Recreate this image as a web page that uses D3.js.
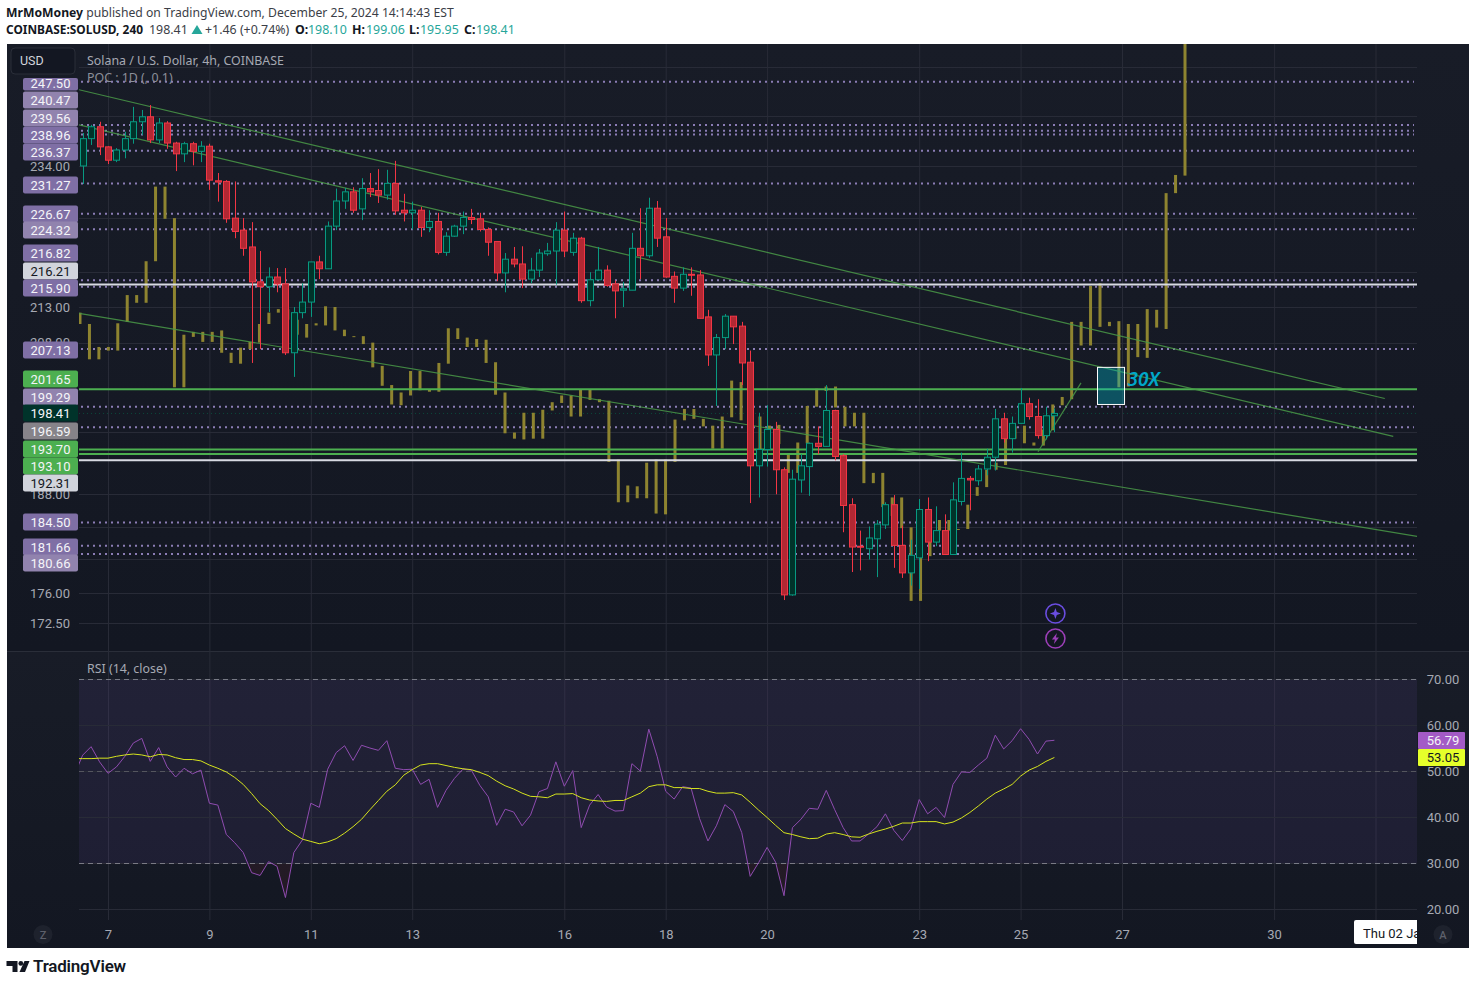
<!DOCTYPE html>
<html>
<head>
<meta charset="utf-8">
<title>SOLUSD</title>
<script src="https://cdn.jsdelivr.net/npm/d3@7"></script>
<style>
  html, body { margin: 0; padding: 0; background: #fff; }
  svg { display: block; }
  text { font-family: Roboto, sans-serif; }
  .noto { font-family: "Noto Sans", sans-serif; }
</style>
</head>
<body>
<svg id="chart" width="1476" height="985"></svg>
<script>
// candles, 4h bars, 6 Dec 2024 onwards
const opens = [
  234.0,238.3,240.2,237.0,234.9,236.5,238.3,241.0,241.8,238.1,
  240.8,237.6,235.9,237.5,236.3,237.1,231.7,231.6,226.0,224.2,
  221.7,216.6,215.9,217.3,216.3,206.6,212.2,213.7,219.5,218.5,
  224.8,228.6,230.0,227.4,230.5,230.2,229.5,231.3,227.2,226.8,
  227.2,224.6,225.5,220.9,223.3,224.8,226.1,225.9,224.3,222.5,
  217.9,219.9,219.2,217.0,218.3,220.7,221.1,224.2,220.9,223.0,
  213.9,216.9,218.3,216.3,215.4,215.4,221.5,220.4,227.5,223.2,
  217.4,215.7,217.7,217.6,211.6,206.3,208.7,211.7,210.3,205.3,
  191.6,193.7,196.3,191.1,175.8,189.8,191.5,194.5,194.1,198.8,
  192.9,186.7,181.6,181.3,182.5,184.2,186.7,181.7,178.4,180.2,
  186.1,182.1,183.5,180.6,187.1,190.0,189.7,191.2,192.7,197.7,
  195.1,197.1,199.7,198.0,195.5,198.1];
const highs = [
  239.2,240.5,241.0,237.1,236.8,239.4,243.4,242.9,243.7,241.6,
  241.1,237.8,237.8,237.8,237.9,237.5,232.9,231.8,231.6,226.0,
  225.4,221.1,218.7,218.6,218.6,213.0,216.4,219.5,220.4,225.5,
  230.5,230.6,230.7,232.1,232.9,233.5,233.4,234.8,229.7,228.5,
  227.7,227.2,226.8,223.9,225.0,227.0,227.4,226.8,224.6,222.5,
  220.8,221.7,221.8,220.1,221.4,222.3,225.4,227.0,223.8,223.2,
  218.0,221.7,219.0,216.8,216.6,223.8,227.5,229.1,228.6,226.0,
  218.1,218.7,218.7,218.3,212.6,209.2,212.0,211.7,210.9,206.9,
  198.5,199.5,197.3,191.4,191.1,193.1,194.6,196.7,202.2,198.9,
  193.1,187.5,183.5,184.0,184.8,187.0,187.9,184.1,182.4,187.4,
  187.6,186.5,185.5,189.5,193.3,190.3,191.7,193.8,199.0,198.5,
  198.0,201.8,200.5,200.3,199.3,199.06];
const lows = [
  231.2,237.3,235.7,234.3,234.6,235.2,237.5,238.9,237.6,237.6,
  236.7,233.2,234.6,234.1,234.6,230.3,228.5,225.3,223.0,220.4,
  205.2,207.1,212.3,215.1,206.3,203.3,211.4,211.6,217.0,218.5,
  224.2,227.4,226.8,225.7,229.2,228.3,228.8,226.5,225.5,224.3,
  223.2,223.9,220.6,220.4,223.2,223.6,225.1,224.0,220.4,216.7,
  215.1,218.7,215.7,216.4,217.3,220.4,216.2,220.2,220.4,213.6,
  213.1,216.9,215.9,211.4,213.0,215.4,217.0,220.1,221.7,217.2,
  213.6,215.3,214.6,211.4,204.8,199.4,207.1,207.8,202.2,186.9,
  187.6,191.5,188.0,175.2,175.7,188.2,187.8,193.1,194.1,192.3,
  183.3,178.5,178.7,180.0,177.9,183.7,179.0,177.8,176.9,176.5,
  179.8,181.6,180.6,180.6,186.6,186.0,189.1,190.4,191.0,194.6,
  193.3,197.1,197.6,195.1,195.0,195.95];
const closes = [
  238.3,240.2,237.0,234.9,236.5,238.3,241.0,241.8,238.1,240.8,
  237.6,235.9,237.5,236.3,237.1,231.8,231.5,225.9,224.0,221.5,
  216.6,215.9,217.3,216.3,206.6,212.2,213.7,219.5,218.5,224.8,
  228.6,230.0,227.2,230.5,230.0,229.5,231.3,227.1,226.8,227.2,
  224.6,225.5,220.9,223.3,224.8,226.1,225.8,224.3,222.4,217.9,
  219.9,219.2,217.0,218.3,220.8,221.1,224.2,221.1,223.0,213.9,
  216.9,218.3,216.1,215.3,215.6,221.5,220.4,227.5,223.0,217.3,
  215.7,217.7,217.6,211.4,206.3,208.7,211.7,210.2,205.2,191.6,
  193.7,196.3,191.1,175.8,189.9,191.6,194.5,194.1,198.8,192.8,
  186.6,181.5,181.5,182.6,184.3,186.7,181.7,178.4,180.5,186.1,
  182.1,183.5,180.6,187.3,190.0,189.8,191.2,192.7,197.7,195.1,
  197.1,199.7,198.0,195.5,198.1,198.41];

// olive overlay bars, on their own bar spacing
const ghostTops = [
  212.2,210.6,207.4,207.4,210.7,214.7,214.7,219.6,230.8,230.8,
  226.0,209.1,209.5,209.5,209.5,209.7,206.6,207.3,208.1,210.6,
  212.2,212.7,212.7,211.2,210.6,210.7,213.1,213.0,209.8,208.9,
  208.9,208.0,204.8,202.2,201.2,204.1,204.1,201.6,205.2,210.0,
  210.0,208.7,208.5,208.4,205.3,201.2,195.9,198.5,198.5,198.9,
  199.9,200.8,200.8,201.6,201.6,200.3,200.1,192.4,189.1,189.0,
  192.0,192.4,192.4,197.6,199.0,199.0,197.7,196.8,198.0,202.8,
  202.6,198.0,198.0,196.8,196.9,193.0,194.6,199.4,201.7,202.0,
  202.0,199.3,198.5,198.5,190.7,190.7,187.6,187.6,183.9,180.4,
  182.5,184.8,184.8,183.7,186.7,188.9,191.1,192.0,195.1,196.7,
  196.8,194.6,196.3,199.6,200.6,210.9,210.9,216.0,216.4,210.9,
  211.0,210.6,210.6,212.7,212.6,229.8,232.6,262.0];
const ghostBottoms = [
  210.6,205.7,205.7,206.9,206.9,210.9,213.6,213.6,219.6,225.9,
  201.9,201.9,208.8,208.1,208.1,206.6,205.2,205.1,207.1,208.0,
  210.6,212.2,211.2,209.1,208.7,210.4,210.4,209.7,208.9,208.8,
  207.8,204.6,202.1,199.6,199.5,200.8,201.5,201.3,201.3,205.1,
  208.5,207.4,207.4,205.2,200.9,195.8,195.1,195.0,195.1,195.1,
  198.8,199.8,198.0,198.0,200.2,199.9,192.1,187.0,187.0,187.5,
  187.5,185.6,185.5,192.1,197.5,197.7,196.7,193.8,193.8,197.9,
  197.5,197.5,193.7,196.3,194.4,190.7,190.7,194.5,199.3,201.4,
  199.2,196.7,196.7,189.4,189.4,186.4,185.3,183.8,175.1,175.1,
  180.4,183.5,183.5,183.6,183.7,187.8,188.9,191.1,191.7,195.1,
  194.5,194.2,194.2,196.2,199.5,200.3,207.6,207.6,210.2,210.3,
  201.9,202.0,206.0,205.9,210.1,209.9,229.8,232.5];

// RSI pane, first point sits one bar before the first candle
const rsiValues = [
  49.2,53.55,55.4,52.1,49.6,51.0,53.3,56.2,57.2,52.2,55.2,
  51.0,48.8,50.7,49.5,50.3,43.1,42.7,36.3,34.5,32.4,
  28.0,27.4,30.4,29.4,22.6,32.4,35.1,43.1,42.2,50.5,
  54.1,55.6,52.4,55.7,55.1,54.6,56.7,50.7,50.4,50.5,
  47.2,48.3,42.2,45.9,48.5,50.5,50.3,47.0,44.5,38.3,
  41.8,41.2,38.2,40.5,45.6,46.3,52.1,46.8,50.2,37.8,
  42.7,45.0,42.3,41.4,41.5,51.7,50.1,59.2,53.2,45.7,
  44.0,46.7,46.4,39.8,34.9,38.2,42.8,41.3,36.7,27.2,
  30.2,33.5,30.3,23.0,37.8,39.6,42.0,41.8,45.9,41.7,
  37.8,34.9,34.9,36.4,38.0,40.8,37.2,35.0,37.5,43.9,
  40.8,42.2,40.0,47.2,49.9,49.8,51.4,52.9,57.9,54.9,
  56.7,59.3,57.0,53.8,56.6,56.79];
const rsiMa = [
  52.8,52.8,52.8,52.9,52.9,53.3,53.6,53.8,53.6,53.2,53.7,
  53.6,53.0,52.6,52.6,52.3,51.4,50.7,49.9,48.7,47.2,
  45.2,43.0,41.5,39.6,37.6,36.4,35.3,34.8,34.3,34.7,
  35.4,36.6,38.0,39.6,41.7,43.7,45.7,47.1,49.2,50.4,
  51.4,51.7,51.7,51.3,50.9,50.6,50.4,49.8,49.1,47.9,
  46.9,46.2,45.3,44.6,44.5,44.3,45.1,45.1,45.2,44.3,
  43.8,43.6,43.5,43.7,43.7,44.5,45.3,46.7,47.1,47.1,
  46.5,46.5,46.3,46.3,45.7,45.3,45.3,45.4,44.9,43.3,
  41.6,40.0,38.3,36.7,36.3,35.8,35.4,35.5,36.4,36.7,
  36.3,35.8,35.7,36.4,37.0,37.5,38.1,38.8,38.8,39.1,
  39.1,39.1,38.6,39.0,39.9,41.1,42.5,44.0,45.3,46.2,
  47.2,49.0,50.3,51.1,52.2,53.05];

const dayTicks = [3, 15, 27, 39, 57, 69, 81, 99, 111, 123, 141, 153];
const dayLabels = ['7', '9', '11', '13', '16', '18', '20', '23', '25', '27', '30', ''];
const priceTicks = [234, 213, 208, 188, 176, 172.5];
const priceGrid = [250, 242, 234, 226, 218, 213, 208, 196, 188, 184, 180, 176, 172.5];
const rsiTicks = [70, 60, 50, 40, 30, 20];

const levelValues = [247.5, 240.47, 239.56, 238.96, 236.37, 231.27, 226.67, 224.32, 216.82, 216.21, 215.9,
  207.13, 201.65, 199.29, 198.41, 196.59, 193.7, 193.1, 192.31, 184.5, 181.66, 180.66];
const levelKinds = ['poc', 'soft', 'soft', 'poc', 'poc', 'poc', 'poc', 'soft', 'poc', 'white', 'poc',
  'poc', 'green', 'soft', 'last', 'grey', 'green', 'green', 'white', 'poc', 'poc', 'soft'];
// price tags get pushed apart on the axis so they do not overlap
const tagNudge = [1, -25, -13, 0, 1, 1, 0, 1, -27, -14, 1, 1, -10, -10, 0, 4, 0, 12, 23, 0, 1, 9];

const trendLines = [
  { bars: [-0.43, 154.1], prices: [246.2, 200.4] },
  { bars: [-0.43, 155.1], prices: [240.5, 195.4] },
  { bars: [-0.43, 158.5], prices: [212.1, 182.7] },
  { bars: [113.06, 118.15], prices: [193.4, 202.5] }
];
const boxBars = [120.1, 123.3];
const boxPrices = [204.6, 199.6];

// layout and colours
const left = 79;
const right = 1417;
const frameLeft = 7;
const frameRight = 1469;
const frameTop = 44;
const split = 651;
const frameBottom = 948;
const gridBottom = 920;
const gridColor = '#282b37';
const upColor = '#089981';
const downColor = '#f23645';
const tagFill = { poc: '#7f6fa5', soft: '#9183ae', white: '#d1d4dc', green: '#4caf50', last: '#00332a', grey: '#868389' };

const x = d3.scaleLinear().domain([0, 115]).range([82.65, 1054.4]);
const xGhost = d3.scaleLinear().domain([0, 117]).range([80, 1185]);
const y = d3.scaleLog().domain([213, 176]).range([307, 593.2]);
const yRsi = d3.scaleLinear().domain([70, 20]).range([679.5, 909.5]);

const svg = d3.select('#chart');
const defs = svg.append('defs');

function paneGradient(id) {
  const g = defs.append('linearGradient').attr('id', id).attr('x1', 0).attr('x2', 0).attr('y1', 0).attr('y2', 1);
  g.append('stop').attr('offset', 0).attr('stop-color', '#181c27');
  g.append('stop').attr('offset', 1).attr('stop-color', '#131722');
}
paneGradient('paneTop');
paneGradient('paneBottom');

defs.append('clipPath').attr('id', 'clipPrice').append('rect')
  .attr('x', left).attr('y', frameTop).attr('width', right - left).attr('height', split - frameTop);
defs.append('clipPath').attr('id', 'clipRsi').append('rect')
  .attr('x', left).attr('y', split).attr('width', right - left).attr('height', gridBottom - split);
defs.append('clipPath').attr('id', 'clipOversold').append('rect')
  .attr('x', left).attr('y', yRsi(30)).attr('width', right - left).attr('height', 60);
defs.append('clipPath').attr('id', 'clipDate').append('rect')
  .attr('x', 1354).attr('y', gridBottom).attr('width', right - 1354).attr('height', 24);

// backgrounds
svg.append('rect').attr('x', frameLeft).attr('y', frameTop).attr('width', frameRight - frameLeft)
  .attr('height', split - frameTop).attr('fill', 'url(#paneTop)');
svg.append('rect').attr('x', frameLeft).attr('y', split).attr('width', frameRight - frameLeft)
  .attr('height', frameBottom - split).attr('fill', 'url(#paneBottom)');
svg.append('line').attr('x1', frameLeft).attr('x2', frameRight).attr('y1', split + 0.5).attr('y2', split + 0.5)
  .attr('stroke', '#2a2e39');

// header
const head1 = svg.append('text').attr('class', 'noto').attr('x', 6).attr('y', 17)
  .attr('font-size', 12.2).attr('fill', '#131722');
head1.append('tspan').attr('font-weight', 700).text('MrMoMoney');
head1.append('tspan').attr('fill', '#3b3e47').text(' published on TradingView.com, December 25, 2024 14:14:43 EST');

const head2 = svg.append('g').attr('class', 'noto').attr('font-size', 12.4);
const headText = (px, txt, fill, weight) => head2.append('text').attr('class', 'noto')
  .attr('x', px).attr('y', 34).attr('fill', fill).attr('font-weight', weight || 400).text(txt);
headText(6, 'COINBASE:SOLUSD, 240', '#131722', 700).attr('textLength', 137).attr('lengthAdjust', 'spacingAndGlyphs');
headText(149, '198.41', '#3b3e47');
head2.append('path').attr('d', 'M197 25 L202.5 34 H191.5 Z').attr('fill', '#26a69a');
headText(205, '+1.46 (+0.74%)', '#3b3e47');
headText(295, 'O:', '#131722', 700);
headText(308, '198.10', '#26a69a');
headText(352, 'H:', '#131722', 700);
headText(366, '199.06', '#26a69a');
headText(409, 'L:', '#131722', 700);
headText(420, '195.95', '#26a69a');
headText(464, 'C:', '#131722', 700);
headText(476, '198.41', '#26a69a');

// vertical grid, runs through both panes
svg.append('g').selectAll('line').data(dayTicks).enter().append('line')
  .attr('x1', (d) => x(d) + 0.5).attr('x2', (d) => x(d) + 0.5)
  .attr('y1', frameTop).attr('y2', gridBottom).attr('stroke', gridColor);

// horizontal grid, price pane
svg.append('g').selectAll('line').data(priceGrid).enter().append('line')
  .attr('x1', left).attr('x2', right)
  .attr('y1', (d) => Math.round(y(d)) + 0.5).attr('y2', (d) => Math.round(y(d)) + 0.5)
  .attr('stroke', gridColor);

const levels = levelValues.map((value, i) => ({ value, kind: levelKinds[i], nudge: tagNudge[i] }));
const pricePane = svg.append('g').attr('clip-path', 'url(#clipPrice)');

// dotted levels go under the olive bars
pricePane.append('g').selectAll('line')
  .data(levels.filter((d) => ['poc', 'soft', 'grey'].includes(d.kind))).enter().append('line')
  .attr('x1', left + 2).attr('x2', right - 3)
  .attr('y1', (d) => y(d.value)).attr('y2', (d) => y(d.value))
  .attr('stroke', '#8b7db5').attr('stroke-width', 2).attr('stroke-dasharray', '2 4');
pricePane.append('line').attr('x1', left).attr('x2', right)
  .attr('y1', y(198.41)).attr('y2', y(198.41))
  .attr('stroke', '#0b4a3c').attr('stroke-dasharray', '1 3');

pricePane.append('g').selectAll('rect').data(ghostTops).enter().append('rect')
  .attr('x', (d, i) => xGhost(i) - 1.5)
  .attr('y', (d) => y(d))
  .attr('width', 3)
  .attr('height', (d, i) => Math.max(1, y(ghostBottoms[i]) - y(d)))
  .attr('fill', '#8e8430');

// solid levels
pricePane.append('g').selectAll('line')
  .data(levels.filter((d) => d.kind === 'green' || d.kind === 'white')).enter().append('line')
  .attr('x1', left).attr('x2', right)
  .attr('y1', (d) => y(d.value)).attr('y2', (d) => y(d.value))
  .attr('stroke', (d) => (d.kind === 'green' ? '#4caf50' : '#d8dae2')).attr('stroke-width', 2);

// trend lines
pricePane.append('g').selectAll('line').data(trendLines).enter().append('line')
  .attr('x1', (d) => x(d.bars[0])).attr('x2', (d) => x(d.bars[1]))
  .attr('y1', (d) => y(d.prices[0])).attr('y2', (d) => y(d.prices[1]))
  .attr('stroke', '#4a9a48').attr('stroke-opacity', 0.85).attr('stroke-width', 1.2);

// candles
const candles = pricePane.append('g').selectAll('g').data(opens).enter().append('g');
const isUp = (i) => closes[i] >= opens[i];
candles.append('line')
  .attr('x1', (d, i) => Math.round(x(i)) + 0.5).attr('x2', (d, i) => Math.round(x(i)) + 0.5)
  .attr('y1', (d, i) => y(highs[i])).attr('y2', (d, i) => y(lows[i]))
  .attr('stroke', (d, i) => (isUp(i) ? upColor : downColor));
candles.append('rect')
  .attr('x', (d, i) => Math.round(x(i)) - 2.5)
  .attr('y', (d, i) => y(Math.max(d, closes[i])))
  .attr('width', 6)
  .attr('height', (d, i) => Math.max(1, Math.abs(y(d) - y(closes[i]))))
  .attr('fill', (d, i) => (isUp(i) ? '#00332a' : '#b22833'))
  .attr('stroke', (d, i) => (isUp(i) ? upColor : downColor));

// 30X box
pricePane.append('rect')
  .attr('x', x(boxBars[0])).attr('y', y(boxPrices[0]))
  .attr('width', x(boxBars[1]) - x(boxBars[0])).attr('height', y(boxPrices[1]) - y(boxPrices[0]))
  .attr('fill', '#00bcd4').attr('fill-opacity', 0.35).attr('stroke', '#ffffff').attr('stroke-width', 1);
pricePane.append('text').attr('class', 'noto')
  .attr('x', x(boxBars[1]) + 3).attr('y', y(boxPrices[0]) + 18.5)
  .attr('font-size', 19).attr('font-weight', 600).attr('font-style', 'italic')
  .attr('fill', '#00a7c9').text('30X');

// event markers
const markerX = x(115) + 1;
const star = svg.append('g').attr('transform', `translate(${markerX},613.5)`);
star.append('circle').attr('r', 9.5).attr('fill', 'none').attr('stroke', '#6a4de0').attr('stroke-width', 1.6);
star.append('path').attr('d', 'M0,-5.5 L1.4,-1.4 L5.5,0 L1.4,1.4 L0,5.5 L-1.4,1.4 L-5.5,0 L-1.4,-1.4 Z').attr('fill', '#6a4de0');
const bolt = svg.append('g').attr('transform', `translate(${markerX},638.5)`);
bolt.append('circle').attr('r', 9.5).attr('fill', 'none').attr('stroke', '#9c3fb8').attr('stroke-width', 1.6);
bolt.append('path').attr('d', 'M1.5,-5.5 L-3.5,1 L-0.5,1 L-1.5,5.5 L3.5,-1 L0.5,-1 Z').attr('fill', '#9c3fb8');

// left price axis, then the tags on top of it
const priceAxis = svg.append('g').attr('transform', `translate(${left},0)`)
  .call(d3.axisLeft(y).tickValues(priceTicks).tickSize(0).tickFormat(d3.format('.2f')));
priceAxis.select('.domain').remove();
priceAxis.selectAll('text').attr('x', -29).attr('text-anchor', 'middle')
  .attr('font-size', 13).attr('fill', '#a6a9b3').attr('font-family', 'Roboto, sans-serif');

const tags = svg.append('g').selectAll('g').data(levels).enter().append('g')
  .attr('transform', (d) => `translate(23,${Math.round(y(d.value)) + d.nudge})`);
tags.append('rect').attr('y', (d) => (d.value === 247.5 ? -5 : -8.5)).attr('width', 55)
  .attr('height', (d) => (d.value === 247.5 ? 12.5 : 17)).attr('rx', 2)
  .attr('fill', (d) => tagFill[d.kind]);
tags.append('text').attr('x', 27.5).attr('y', 4.7).attr('text-anchor', 'middle').attr('font-size', 13)
  .attr('fill', (d) => (d.kind === 'white' ? '#131722' : '#f4f4f8'))
  .text((d) => d.value.toFixed(2));

// legend
svg.append('rect').attr('x', 11).attr('y', 48).attr('width', 64).attr('height', 26).attr('rx', 4)
  .attr('fill', '#131722').attr('stroke', '#2a2e39');
svg.append('text').attr('x', 20).attr('y', 65).attr('font-size', 12.5).attr('fill', '#d1d4dc').text('USD');
svg.append('text').attr('class', 'noto').attr('x', 87).attr('y', 65).attr('font-size', 12.4)
  .attr('fill', '#a6a9b3').text('Solana / U.S. Dollar, 4h, COINBASE');
svg.append('text').attr('class', 'noto').attr('x', 87).attr('y', 82).attr('font-size', 12.4)
  .attr('fill', '#8c8f99').text('POC : 1D (, 0.1)');

// RSI pane
svg.append('rect').attr('x', left).attr('y', yRsi(70)).attr('width', right - left)
  .attr('height', yRsi(30) - yRsi(70)).attr('fill', '#7e57c2').attr('fill-opacity', 0.1);
svg.append('g').selectAll('line').data(rsiTicks).enter().append('line')
  .attr('x1', left).attr('x2', right)
  .attr('y1', (d) => yRsi(d)).attr('y2', (d) => yRsi(d))
  .attr('stroke', gridColor);
svg.append('g').selectAll('line').data([70, 50, 30]).enter().append('line')
  .attr('x1', left).attr('x2', right)
  .attr('y1', (d) => yRsi(d)).attr('y2', (d) => yRsi(d))
  .attr('stroke', (d) => (d === 50 ? '#55565f' : '#787b86'))
  .attr('stroke-dasharray', '5 4');

const rsiPane = svg.append('g').attr('clip-path', 'url(#clipRsi)');
const barOf = (i) => x(i - 1);
rsiPane.append('g').attr('clip-path', 'url(#clipOversold)').append('path')
  .datum(rsiValues)
  .attr('d', d3.area().x((d, i) => barOf(i)).y0(yRsi(30)).y1((d) => yRsi(d)))
  .attr('fill', '#f23645').attr('fill-opacity', 0.07);
rsiPane.append('path').datum(rsiValues)
  .attr('d', d3.line().x((d, i) => barOf(i)).y((d) => yRsi(d)))
  .attr('fill', 'none').attr('stroke', '#8f4cb0').attr('stroke-width', 1);
rsiPane.append('path').datum(rsiMa)
  .attr('d', d3.line().x((d, i) => barOf(i)).y((d) => yRsi(d)))
  .attr('fill', 'none').attr('stroke', '#d6e41e').attr('stroke-width', 1);

svg.append('text').attr('class', 'noto').attr('x', 87).attr('y', 673).attr('font-size', 12.4)
  .attr('fill', '#a6a9b3').text('RSI (14, close)');

const rsiAxis = svg.append('g').attr('transform', `translate(${right},0)`)
  .call(d3.axisRight(yRsi).tickValues(rsiTicks).tickSize(0).tickFormat(d3.format('.2f')));
rsiAxis.select('.domain').remove();
rsiAxis.selectAll('text').attr('x', 26).attr('text-anchor', 'middle')
  .attr('font-size', 13).attr('fill', '#a6a9b3').attr('font-family', 'Roboto, sans-serif');

[{ v: rsiValues[rsiValues.length - 1], fill: '#a35ac6', text: '#f4f4f8', top: 732 },
  { v: rsiMa[rsiMa.length - 1], fill: '#e5ff2a', text: '#131722', top: 749 }].forEach((t) => {
  svg.append('rect').attr('x', 1418).attr('y', t.top).attr('width', 47).attr('height', 17)
    .attr('rx', 1).attr('fill', t.fill);
  svg.append('text').attr('x', 1443).attr('y', t.top + 13).attr('text-anchor', 'middle')
    .attr('font-size', 13).attr('fill', t.text).text(t.v.toFixed(2));
});

// time axis
const timeAxis = svg.append('g').attr('transform', `translate(0,${gridBottom})`)
  .call(d3.axisBottom(x).tickValues(dayTicks).tickSize(0).tickFormat((d, i) => dayLabels[i]));
timeAxis.select('.domain').remove();
timeAxis.selectAll('text').attr('y', 18.5).attr('dy', 0).attr('font-size', 13).attr('fill', '#a6a9b3')
  .attr('font-family', 'Roboto, sans-serif');

const dateTag = svg.append('g').attr('clip-path', 'url(#clipDate)');
dateTag.append('rect').attr('x', 1354).attr('y', gridBottom).attr('width', 70).attr('height', 24).attr('rx', 2).attr('fill', '#fff');
dateTag.append('text').attr('x', 1363).attr('y', 938).attr('font-size', 13).attr('fill', '#131722').text('Thu 02 Jan');

[{ cx: 43, label: 'Z' }, { cx: 1443, label: 'A' }].forEach((b) => {
  svg.append('circle').attr('cx', b.cx).attr('cy', 934.5).attr('r', 9.5).attr('fill', '#1e222d');
  svg.append('text').attr('x', b.cx).attr('y', 938.5).attr('text-anchor', 'middle')
    .attr('font-size', 11).attr('font-weight', 500).attr('fill', '#5d606b').text(b.label);
});

// footer logo
const logo = svg.append('g').attr('fill', '#131722');
logo.append('path').attr('d', 'M6.5 961 H17.5 V972 H12.5 V966 H6.5 Z');
logo.append('circle').attr('cx', 20.8).attr('cy', 963.4).attr('r', 2.4);
logo.append('path').attr('d', 'M24.5 961 H29.5 L25 972 H19.5 Z');
svg.append('text').attr('x', 33).attr('y', 971.5).attr('font-family', 'Inter, sans-serif')
  .attr('font-size', 17).attr('font-weight', 600).attr('letter-spacing', -0.2).attr('fill', '#131722').text('TradingView');
</script>
</body>
</html>
